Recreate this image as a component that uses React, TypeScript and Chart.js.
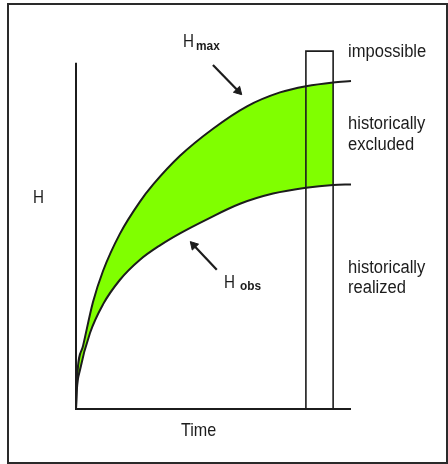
import React, { useEffect, useRef } from "react";
import { Chart, registerables } from "chart.js";

Chart.register(...registerables);

// ---- data (time and H in arbitrary units 0..100) ----
const hMaxTime = [0, 0.3, 2.55, 6.18, 9.82, 16, 23.27, 28, 37.82, 49.82, 62.18, 74.18, 83.64, 93.5, 100];
const hMaxValues = [0, 8, 18.2, 30.9, 39.87, 50.67, 59.92, 64.8, 73.15, 80.98, 87.45, 91.46, 93.25, 94.35, 94.76];
const hObsTime = [0, 0.3, 1.45, 5.09, 9.82, 16, 23.27, 30.55, 37.82, 47.64, 59.64, 71.64, 83.64, 93.5, 100];
const hObsValues = [0, 5.5, 11.27, 21.96, 30.22, 37.34, 43.12, 47.28, 50.74, 54.8, 59.28, 62.23, 63.93, 64.71, 64.86];
const presentWindow = [83.6, 93.5]; // time span of the "present" box
const boxTop = 103.4;
const axisTimeMax = 100;
const axisHMax = 100;
const regionLabels = ["impossible", "historically", "excluded", "historically", "realized"];
const axisLabels = ["H", "Time"];
const curveLabels = [["H", "max"], ["H", "obs"]];
// arrows: [tailX, tailY, headX, headY, rotationDeg]
const hMaxArrow = [49.8, 99.4, 59.0, 91.85, 136];
const hObsArrow = [51.2, 40.2, 42.8, 47.3, 316.8];

const toPts = (xs: number[], ys: number[]) => xs.map((x, i) => ({ x, y: ys[i] }));
const upTo = (xs: number[], ys: number[], lim: number) =>
  toPts(xs, ys).filter((p) => p.x <= lim + 1e-9);

const INK = "#1c1c1c";
const GREEN = "#80ff00";
const FONT = '"Liberation Sans", Arial, sans-serif';

const labelPlugin = {
  id: "textLabels",
  afterDraw(chart: any) {
    const ctx = chart.ctx as CanvasRenderingContext2D;
    const draw = (text: string, x: number, y: number, size: number, bold: boolean, sx: number) => {
      ctx.save();
      ctx.translate(x, y);
      ctx.scale(sx, 1);
      ctx.font = `${bold ? "bold " : ""}${size}px ${FONT}`;
      ctx.fillStyle = INK;
      ctx.textAlign = "left";
      ctx.textBaseline = "alphabetic";
      ctx.fillText(text, 0, 0);
      ctx.restore();
    };
    draw(regionLabels[0], 348, 57, 18, false, 0.92);
    draw(regionLabels[1], 348, 129, 18, false, 0.92);
    draw(regionLabels[2], 348, 150, 18, false, 0.92);
    draw(regionLabels[3], 348, 273, 18, false, 0.92);
    draw(regionLabels[4], 348, 293, 18, false, 0.92);
    draw(axisLabels[0], 33, 203, 19, false, 0.8);
    draw(axisLabels[1], 181, 436, 19, false, 0.85);
    draw(curveLabels[0][0], 183, 47, 19, false, 0.8);
    draw(curveLabels[0][1], 196, 50, 12.5, true, 0.95);
    draw(curveLabels[1][0], 224, 288, 19, false, 0.8);
    draw(curveLabels[1][1], 240, 290, 12.5, true, 0.95);
  },
};

function arrowDataset(a: number[]) {
  return {
    type: "line" as const,
    data: [
      { x: a[0], y: a[1] },
      { x: a[2], y: a[3] },
    ],
    borderColor: INK,
    borderWidth: 2.2,
    pointRadius: [0, 5],
    pointStyle: "triangle" as const,
    rotation: a[4],
    pointBackgroundColor: INK,
    pointBorderColor: INK,
    pointBorderWidth: 1,
    fill: false,
    clip: false as const,
  };
}

export default function App() {
  const ref = useRef<HTMLCanvasElement | null>(null);

  useEffect(() => {
    if (!ref.current) return;
    const lineBase = {
      type: "line" as const,
      pointRadius: 0,
      fill: false,
      clip: false as const,
    };
    const chart = new Chart(ref.current, {
      type: "line",
      data: {
        datasets: [
          // fill band between Hmax and Hobs, up to the right edge of the box
          {
            ...lineBase,
            data: upTo(hMaxTime, hMaxValues, presentWindow[1]),
            borderWidth: 0,
            borderColor: "rgba(0,0,0,0)",
            backgroundColor: GREEN,
            cubicInterpolationMode: "monotone",
            fill: "+1",
          },
          {
            ...lineBase,
            data: upTo(hObsTime, hObsValues, presentWindow[1]),
            borderWidth: 0,
            borderColor: "rgba(0,0,0,0)",
            cubicInterpolationMode: "monotone",
          },
          // curves
          {
            ...lineBase,
            data: toPts(hMaxTime, hMaxValues),
            borderColor: INK,
            borderWidth: 2,
            cubicInterpolationMode: "monotone",
          },
          {
            ...lineBase,
            data: toPts(hObsTime, hObsValues),
            borderColor: INK,
            borderWidth: 2,
            cubicInterpolationMode: "monotone",
          },
          // present box
          {
            ...lineBase,
            data: [
              { x: presentWindow[0], y: 0 },
              { x: presentWindow[0], y: boxTop },
              { x: presentWindow[1], y: boxTop },
              { x: presentWindow[1], y: 0 },
              { x: presentWindow[0], y: 0 },
            ],
            borderColor: INK,
            borderWidth: 1.6,
            tension: 0,
          },
          // axes
          {
            ...lineBase,
            data: [
              { x: 0, y: axisHMax },
              { x: 0, y: 0 },
              { x: axisTimeMax, y: 0 },
            ],
            borderColor: INK,
            borderWidth: 2,
            tension: 0,
          },
          arrowDataset(hMaxArrow),
          arrowDataset(hObsArrow),
        ],
      },
      options: {
        animation: false,
        responsive: false,
        devicePixelRatio: 1,
        layout: { padding: { left: 76, right: 97, top: 49, bottom: 55 } },
        scales: {
          x: { type: "linear", min: 0, max: 100, display: false },
          y: { type: "linear", min: 0, max: 104, display: false },
        },
        plugins: {
          legend: { display: false },
          tooltip: { enabled: false },
          filler: { drawTime: "beforeDatasetsDraw" },
        },
        events: [],
      },
      plugins: [labelPlugin],
    } as any);
    return () => chart.destroy();
  }, []);

  return (
    <div style={{ position: "absolute", left: 0, top: 0, width: 448, height: 464, background: "#fff" }}>
      <canvas ref={ref} width={448} height={464} style={{ position: "absolute", left: 0, top: 0 }} />
      <div
        style={{
          position: "absolute",
          left: 7,
          top: 3,
          width: 437,
          height: 457,
          border: "2px solid #2a2a2a",
          pointerEvents: "none",
        }}
      />
    </div>
  );
}
